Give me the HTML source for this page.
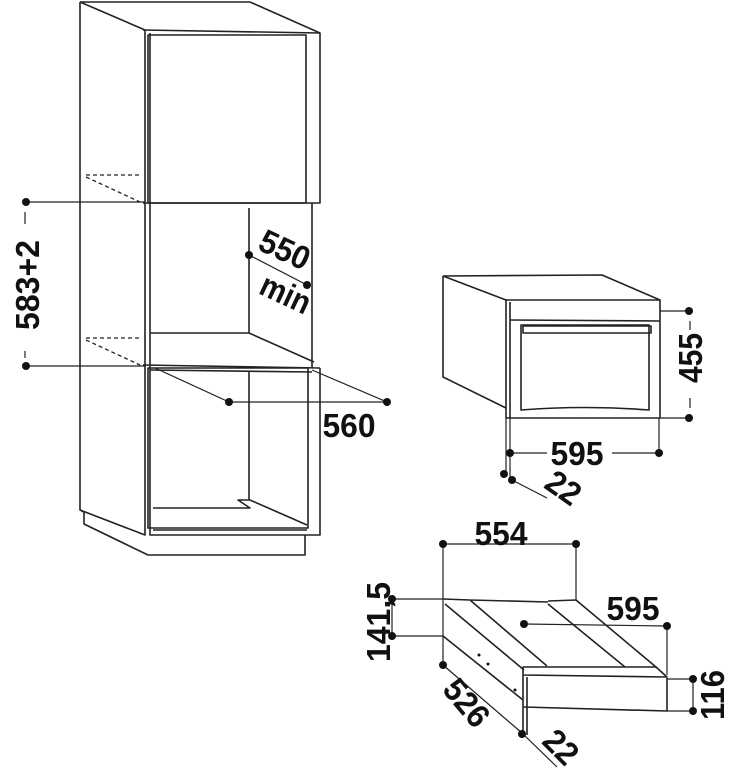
<!DOCTYPE html>
<html><head><meta charset="utf-8"><style>
html,body{margin:0;padding:0;background:#fff}
svg{display:block}
text{font-family:"Liberation Sans",Arial,sans-serif;font-weight:bold;font-size:33px;fill:#111}
</style></head><body>
<svg width="742" height="776" viewBox="0 0 742 776" xmlns="http://www.w3.org/2000/svg">
<g fill="none" stroke="#222" stroke-width="1.6" stroke-linejoin="round">
<path d="M80,2 L250,2 L320,33"/>
<path d="M80,2 L145,30"/>
<path d="M80,2 L80,510 L84,512 L84,524 L148,555 L305,555 L305,535"/>
<path d="M145,30 L145,535 L80,510"/>
<path d="M143,30 L320,33 L320,203 L143,203"/>
<rect x="148" y="35" width="158" height="168"/>
<path d="M150,33 L150,203"/>
<path d="M150,203 L150,535 L320,535 L320,368"/>
<path d="M312,203 L312,368"/>
<path d="M249,208 L249,333 L150,333"/>
<path d="M249,333 L314,362"/>
<path d="M143,365 L320,368"/>
<path d="M150,370 L312,372"/>
<rect x="148" y="368" width="160" height="160"/>
<path d="M249,372 L249,500"/>
<path d="M153,508 L250,508 L238,500 L250,500 L307,525"/>
<path d="M153,530 L307,530"/>
<path d="M86,175 L140,175 M86,177 L140,202 M86,338 L140,338 M86,340 L140,365" stroke-dasharray="4,3" stroke-width="1.3"/>
<path d="M26,202 L145,202 M26,366 L145,366 M25,212 L25,224 M25,351 L25,358" stroke-width="1.2"/>
<path d="M249,255 L307,285" stroke-width="1.2"/>
<path d="M155,368 L229,402 L387,402 L312,370" stroke-width="1.2"/>
<path d="M443,276 L602,275 L660,300"/>
<path d="M443,276 L506,300"/>
<path d="M443,276 L443,377 L506,408"/>
<rect x="506" y="300" width="154" height="118"/>
<path d="M510,302 L510,418"/>
<path d="M510,320 L660,321"/>
<path d="M521,325 L649,325 L649,410 Q585,405 521,410 Z"/>
<rect x="523" y="326" width="128" height="7"/>
<path d="M660,311 L689,311 M660,418 L689,418 M690,321 L690,330 M690,398 L690,408" stroke-width="1.2"/>
<path d="M506,418 L506,474 M510,418 L510,480 M510,453 L547,453 M612,453 L659,453 L659,418 M512,480 L547,498" stroke-width="1.2"/>
<path d="M443,544 L576,544 M443,544 L443,665 M576,544 L576,600" stroke-width="1.2"/>
<path d="M392,599 L443,599 M392,636 L443,636 M392,599 L392,636" stroke-width="1.2"/>
<path d="M443,599 L470,600 L547,666 M470,600 L548,602 M548,601 L576,600 L656,667"/>
<path d="M445,604 L524,670 M548,604 L625,667"/>
<path d="M523,667 L656,667 L667,677 L523,675 Z"/>
<path d="M523,675 L523,735 M527,677 L527,735"/>
<path d="M523,707 L667,711 L667,678"/>
<path d="M443,636 L523,700"/>
<path d="M524,624 L667,626 L667,675" stroke-width="1.2"/>
<path d="M667,679 L693,679 M667,711 L693,711 M693,679 L693,711" stroke-width="1.2"/>
<path d="M443,665 L522,733 L557,767" stroke-width="1.2"/>
</g>
<g fill="#111">
<circle cx="26" cy="202" r="4"/><circle cx="26" cy="366" r="4"/>
<circle cx="249" cy="255" r="4"/><circle cx="307" cy="285" r="4"/>
<circle cx="229" cy="402" r="4"/><circle cx="387" cy="402" r="4"/>
<circle cx="689" cy="311" r="4"/><circle cx="689" cy="418" r="4"/>
<circle cx="510" cy="453" r="4"/><circle cx="659" cy="453" r="4"/>
<circle cx="504" cy="474" r="4"/><circle cx="512" cy="480" r="4"/>
<circle cx="443" cy="544" r="4"/><circle cx="576" cy="544" r="4"/>
<circle cx="392" cy="599" r="4"/><circle cx="392" cy="636" r="4"/>
<circle cx="524" cy="624" r="4"/><circle cx="667" cy="626" r="4"/>
<circle cx="693" cy="679" r="4"/><circle cx="693" cy="711" r="4"/>
<circle cx="443" cy="665" r="4"/><circle cx="522" cy="734" r="4"/>
<circle cx="479" cy="655" r="1.5"/><circle cx="488" cy="664" r="1.5"/><circle cx="515" cy="690" r="1.5"/>
</g>
<text transform="translate(39,285) rotate(-90)" text-anchor="middle" textLength="90" lengthAdjust="spacingAndGlyphs">583+2</text>
<text transform="translate(280,260) rotate(25)" text-anchor="middle" textLength="52" lengthAdjust="spacingAndGlyphs">550</text>
<text transform="translate(281,304) rotate(25)" text-anchor="middle" textLength="52" lengthAdjust="spacingAndGlyphs">min</text>
<text x="349" y="437" text-anchor="middle" textLength="53" lengthAdjust="spacingAndGlyphs">560</text>
<text transform="translate(702,358) rotate(-90)" text-anchor="middle" textLength="50" lengthAdjust="spacingAndGlyphs">455</text>
<text x="577" y="465" text-anchor="middle" textLength="53" lengthAdjust="spacingAndGlyphs">595</text>
<text transform="translate(557,497) rotate(35)" text-anchor="middle" textLength="35" lengthAdjust="spacingAndGlyphs">22</text>
<text x="501" y="545" text-anchor="middle" textLength="53" lengthAdjust="spacingAndGlyphs">554</text>
<text transform="translate(390,622) rotate(-90)" text-anchor="middle" textLength="80" lengthAdjust="spacingAndGlyphs">141,5</text>
<text x="633" y="620" text-anchor="middle" textLength="53" lengthAdjust="spacingAndGlyphs">595</text>
<text transform="translate(724,695) rotate(-90)" text-anchor="middle" textLength="50" lengthAdjust="spacingAndGlyphs">116</text>
<text transform="translate(458,710) rotate(50)" text-anchor="middle" textLength="52" lengthAdjust="spacingAndGlyphs">526</text>
<text transform="translate(553,755) rotate(45)" text-anchor="middle" textLength="35" lengthAdjust="spacingAndGlyphs">22</text>
</svg>
</body></html>
